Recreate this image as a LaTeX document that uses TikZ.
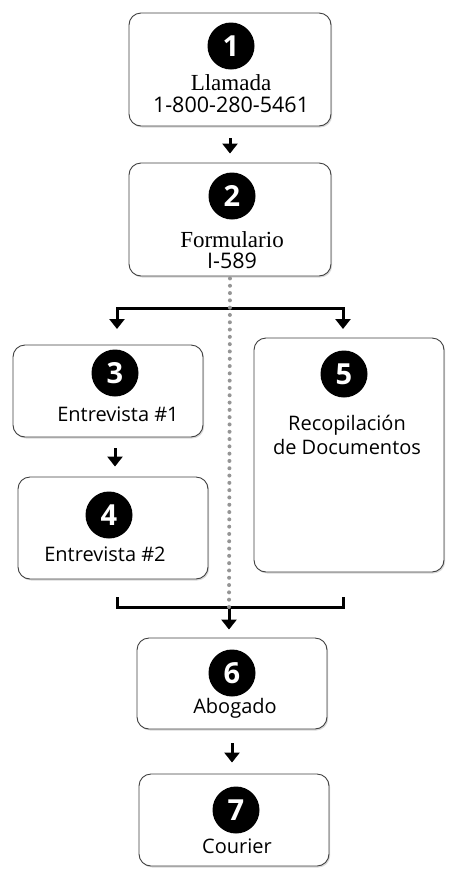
\documentclass[tikz,border=0pt]{standalone}
\usepackage{fontspec}
\setsansfont{Open Sans}
\setmainfont{Liberation Serif}
\usetikzlibrary{shadows,arrows.meta}
\definecolor{dotgray}{HTML}{959595}
\tikzset{
  stage/.style={draw=black!75, line width=0.9pt, rounded corners=12pt, fill=white,
    drop shadow={opacity=0.3, shadow xshift=1.2pt, shadow yshift=-1.5pt}},
  badge/.style={circle, fill=black, text=white, minimum size=47pt, inner sep=0pt,
    font=\sffamily\bfseries\fontsize{29}{29}\selectfont},
  lbl/.style={anchor=base, font=\sffamily\fontsize{20}{24}\selectfont},
  nlbl/.style={anchor=base, font=\sffamily\fontsize{21.5}{24}\selectfont},
  slbl/.style={anchor=base, font=\rmfamily\fontsize{23}{27}\selectfont},
  >={Triangle[width=15pt,length=10pt]},
  link/.style={line width=3pt},
  arr/.style={link, ->},
  dots/.style={dotgray, line width=4pt, line cap=round, dash pattern=on 0pt off 7.3pt}
}
\begin{document}
\begin{tikzpicture}[x=1pt, y=-1pt]
    \useasboundingbox (0,0) rectangle (462,884);

    \node[stage, minimum width=202pt, minimum height=113pt] (B1) at (230,69.5) {};
    \node[stage, minimum width=202pt, minimum height=113pt] (B2) at (230,219.5) {};
    \node[stage, minimum width=190pt, minimum height=92pt] (B3) at (108,391) {};
    \node[stage, minimum width=190pt, minimum height=102pt] (B4) at (113,528) {};
    \node[stage, minimum width=190pt, minimum height=234pt] (B5) at (349,455) {};
    \node[stage, minimum width=190pt, minimum height=91pt] (B6) at (232,683.5) {};
    \node[stage, minimum width=190pt, minimum height=92pt] (B7) at (234,820) {};

    \node[badge] (C1) at (231,46) {1};
    \node[badge] (C2) at (232,196) {2};
    \node[badge] (C3) at (115,373) {3};
    \node[badge] (C4) at (109,515) {4};
    \node[badge] (C5) at (344,374) {5};
    \node[badge] (C6) at (232,673) {6};
    \node[badge] (C7) at (236,810) {7};

    \node[slbl] (T1) at (231,90) {Llamada};
    \node[nlbl] (P1) at (231,112) {1-800-280-5461};
    \node[slbl] (T2) at (232,247) {Formulario};
    \node[nlbl] (P2) at (232,268) {I-589};
    \node[lbl] (T3) at (118,421) {Entrevista \#1};
    \node[lbl] (T4) at (105,561) {Entrevista \#2};
    \node[lbl] (T5) at (347,430) {Recopilación};
    \node[lbl] (P5) at (347,454) {de Documentos};
    \node[lbl] (T6) at (235,713) {Abogado};
    \node[lbl] (T7) at (237,853) {Courier};

    % fork and join
    \coordinate (forkL) at (117,329);
    \coordinate (forkR) at (343,329);
    \coordinate (joinL) at (117,597);
    \coordinate (joinR) at (343,597);
    \coordinate (merge) at (229,607);

    \draw[arr, shorten <=12pt, shorten >=9pt] (B1.south) -- (B2.north);
    \draw[link, <->] (forkL) -- ++(0,-21) -| (forkR);
    \draw[arr, shorten <=11pt, shorten >=10pt] (C3 |- B3.south) -- (C3 |- B4.north);
    \draw[link] (joinL) |- (merge) -| (joinR);
    \draw[arr, shorten >=8pt] (merge) -- (merge |- B6.north);
    \draw[arr, shorten <=14pt, shorten >=11pt] (B6.south) -- (B6.south |- B7.north);

    \draw[dots, shorten <=2pt] (B2.south) -- (merge);
\end{tikzpicture}
\end{document}
